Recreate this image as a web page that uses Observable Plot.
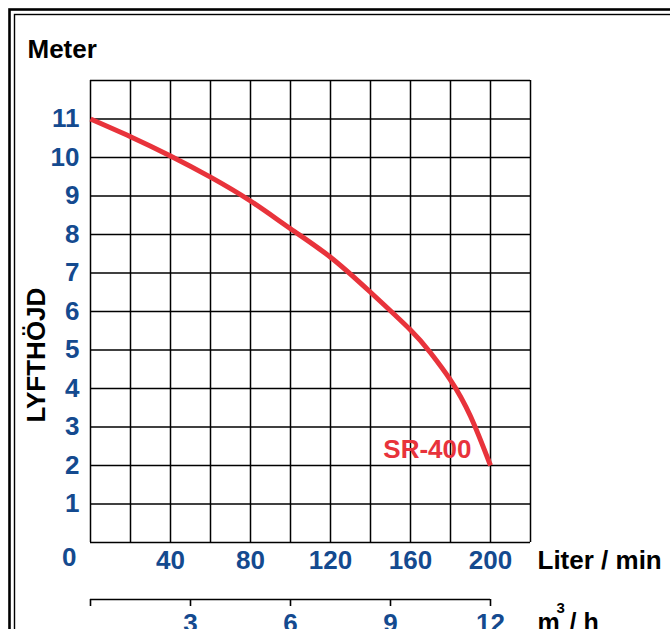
<!DOCTYPE html>
<html>
<head>
<meta charset="utf-8">
<script src="https://cdn.jsdelivr.net/npm/d3@7"></script>
<script src="https://cdn.jsdelivr.net/npm/@observablehq/plot@0.6"></script>
<style>
  html, body { margin: 0; padding: 0; background: #fff; overflow: hidden; }
  #chart svg { display: block; }
</style>
</head>
<body>
<div id="chart"></div>
<script>
// Pump curve SR-400: flow (L/min) vs head (m)
const flowLmin = [0, 20, 40, 60, 80, 100, 120, 140, 160, 170, 180, 190, 200];
const headM    = [11, 10.54, 10.04, 9.49, 8.87, 8.15, 7.41, 6.5, 5.52, 4.93, 4.22, 3.28, 2.0];
const seriesName = "SR-400";

const xGrid = [0, 20, 40, 60, 80, 100, 120, 140, 160, 180, 200, 220];
const yGrid = [0, 1, 2, 3, 4, 5, 6, 7, 8, 9, 10, 11, 12];
const yTickLabels = [1, 2, 3, 4, 5, 6, 7, 8, 9, 10, 11];
const xTickLabels = [40, 80, 120, 160, 200];
const m3hTicks = [0, 3, 6, 9, 12];
const m3hTickLabels = [3, 6, 9, 12];

const BLUE = "#144a8f";
const RED = "#e8333b";
const FONT = "'Liberation Sans', Arial, Helvetica, sans-serif";

const curve = flowLmin.map((f, i) => ({flow: f, head: headM[i]}));
const toLmin = m3h => m3h * 1000 / 60;

const chart = Plot.plot({
  width: 670,
  height: 629,
  marginLeft: 90,
  marginRight: 140,
  marginTop: 80,
  marginBottom: 87,
  style: {fontFamily: FONT, background: "#fff", overflow: "visible"},
  x: {domain: [0, 220], axis: null},
  y: {domain: [0, 12], axis: null},
  marks: [
    // outer double border
    Plot.frame({stroke: "#000", strokeWidth: 2.6, insetLeft: -81, insetTop: -71, insetRight: -170, insetBottom: -120}),
    Plot.frame({stroke: "#000", strokeWidth: 1.4, insetLeft: -76, insetTop: -66, insetRight: -165, insetBottom: -115}),
    // grid
    Plot.ruleX(xGrid, {x: d => d, stroke: "#000", strokeWidth: 1.5}),
    Plot.ruleY(yGrid, {y: d => d, stroke: "#000", strokeWidth: 1.5}),
    // curve
    Plot.line(curve, {x: "flow", y: "head", stroke: RED, strokeWidth: 5, curve: "natural", strokeLinecap: "butt"}),
    Plot.text([curve[curve.length - 1]], {x: "flow", y: "head", text: () => seriesName, textAnchor: "end", dx: -19, dy: -16, fill: RED, fontSize: 26, fontWeight: "bold"}),
    // y tick labels
    Plot.text(yTickLabels, {x: 0, y: d => d, text: d => String(d), textAnchor: "end", dx: -11, fill: BLUE, fontSize: 26, fontWeight: "bold"}),
    Plot.text([0], {x: 0, y: 0, text: d => String(d), textAnchor: "end", dx: -14, dy: 15, fill: BLUE, fontSize: 26, fontWeight: "bold"}),
    // x tick labels
    Plot.text(xTickLabels, {x: d => d, y: 0, text: d => String(d), dy: 18, fill: BLUE, fontSize: 26, fontWeight: "bold"}),
    Plot.text(["Liter / min"], {x: 220, y: 0, textAnchor: "start", dx: 7, dy: 18, fill: "#000", fontSize: 26, fontWeight: "bold"}),
    // titles
    Plot.text(["Meter"], {x: 0, y: 12, textAnchor: "start", dx: -63, dy: -31, fill: "#000", fontSize: 26, fontWeight: "bold"}),
    Plot.text(["LYFTHÖJD"], {frameAnchor: "left", rotate: -90, dx: -54, dy: 111, fill: "#000", fontSize: 26, fontWeight: "bold"}),
    // secondary m3/h axis
    Plot.ruleY([0], {y: d => d, x1: 0, x2: toLmin(12), dy: 57, stroke: "#000", strokeWidth: 1.6}),
    Plot.ruleX(m3hTicks, {x: d => toLmin(d), y1: 0, y2: 0, dy: 57, insetBottom: -7, stroke: "#000", strokeWidth: 1.6}),
    Plot.text(m3hTickLabels, {x: d => toLmin(d), y: 0, text: d => String(d), dy: 81, fill: BLUE, fontSize: 26, fontWeight: "bold"}),
    Plot.text(["m"], {x: 220, y: 0, textAnchor: "start", dx: 7, dy: 80, fill: "#000", fontSize: 25, fontWeight: "bold"}),
    Plot.text(["3"], {x: 220, y: 0, textAnchor: "start", dx: 26, dy: 66, fill: "#000", fontSize: 15, fontWeight: "bold"}),
    Plot.text(["/ h"], {x: 220, y: 0, textAnchor: "start", dx: 39, dy: 80, fill: "#000", fontSize: 25, fontWeight: "bold"})
  ]
});
document.getElementById("chart").appendChild(chart);
</script>
</body>
</html>
